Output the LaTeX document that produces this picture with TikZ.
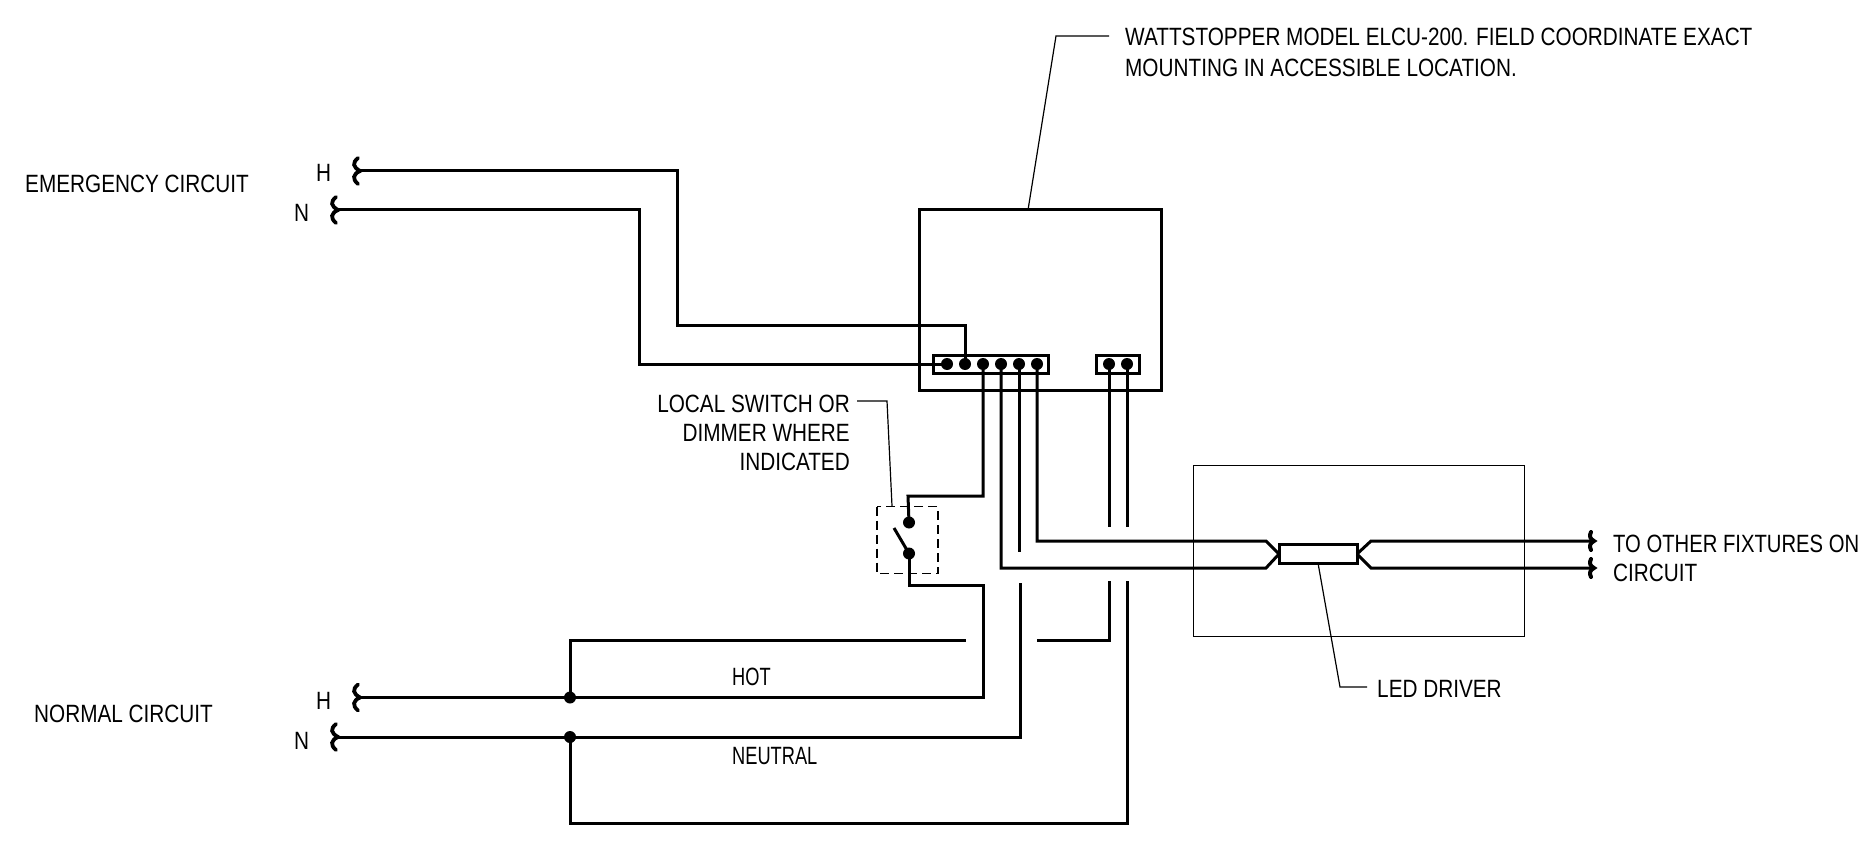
\documentclass[tikz,border=0pt]{standalone}
\usepackage{fontspec}
\setmainfont[FakeStretch=0.83]{Liberation Sans}
\newfontfamily\narrowfont[FakeStretch=0.73]{Liberation Sans}
\newfontfamily\fitfont[FakeStretch=0.81]{Liberation Sans}
\tikzset{
  x=1pt,y=-1pt,
  wire/.style={draw=black,line width=3pt,line join=miter,line cap=butt},
  boxw/.style={draw=black,line width=3pt,fill=none},
  thin line/.style={draw=black,line width=1.2pt},
  dot/.style={circle,fill=black,inner sep=0pt,minimum size=12pt},
  lbl/.style={font=\fontsize{25}{30}\selectfont,inner sep=0pt,anchor=base west},
  lblr/.style={font=\fontsize{25}{30}\selectfont,inner sep=0pt,anchor=base east},
  lbln/.style={font=\fontsize{25}{30}\narrowfont,inner sep=0pt,anchor=base west},
  lblf/.style={font=\fontsize{25}{30}\fitfont,inner sep=0pt,anchor=base west},
  squig/.pic={\draw[line width=3.8pt,line cap=round] (1,-13) .. controls (-5,-8) and (-4,-4) .. (3,0) .. controls (-4,3) and (-5,8) .. (1,13);},
  squigs/.pic={\draw[line width=4pt,line cap=round] (-1,-9) .. controls (-3,-5) and (-2,-2) .. (2,0) .. controls (-2,2) and (-3,5) .. (-1,9);}
}
\begin{document}
\begin{tikzpicture}
\useasboundingbox (0,0) rectangle (1861,845);
% thin boxes
\node[thin line,draw,inner sep=0pt,anchor=north west,minimum width=331pt,minimum height=171pt] (fixture) at (1193,465) {};
\draw[draw=black,line width=1.1pt,dash pattern=on 9pt off 5pt] (877,506.5) rectangle (938,573.5);
% main boxes
\draw[boxw] (919,210) rectangle (1161.5,390);
\coordinate (ctop) at (1028,210);
\draw[boxw] (933,355) rectangle (1048,373);
\draw[boxw] (1096,355) rectangle (1139,373);
% terminals
\node[dot] (t1) at (947,364) {};
\node[dot] (t2) at (965,364) {};
\node[dot] (t3) at (983,364) {};
\node[dot] (t4) at (1001,364) {};
\node[dot] (t5) at (1019,364) {};
\node[dot] (t6) at (1037,364) {};
\node[dot] (t7) at (1109,364) {};
\node[dot] (t8) at (1127,364) {};
% switch
\node[dot] (sa) at (909,522.5) {};
\node[dot] (sb) at (909,553.5) {};
\coordinate (sarm) at (894,528);
\draw[wire] (sb.center) -- (sarm);
% junctions
\node[dot] (jh) at (570,697.5) {};
\node[dot] (jn) at (570,737) {};
% driver
\draw[boxw] (1279,544.5) rectangle (1357,563.5);
\coordinate (dl) at (1279,554);
\coordinate (dr) at (1357,554);
% free ends
\coordinate (eh) at (357,171);
\coordinate (en) at (335,210);
\coordinate (nh) at (357,697.5);
\coordinate (nn) at (335,737);
\coordinate (o1) at (1592,541);
\coordinate (o2) at (1592,568);
\foreach \p in {eh,en,nh,nn} \path (\p) pic {squig};
\foreach \p in {o1,o2} \path (\p) pic {squigs};
% emergency wires
\draw[wire] (eh) -- (677.5,171) -- (677.5,325) -- (965,325) -- (t2.center);
\draw[wire] (en) -- (639.5,210) -- (639.5,364) -- (t1.center);
% down to switch
\draw[wire] (t3.center) -- (983,496) -- (908,496) -- (sa.center);
\draw[wire] (sb.center) -- (909,585) -- (983,585) -- (983,697.5) -- (nh);
% to driver
\draw[wire] (t4.center) -- (1001,568) -- (1266,568) -- (dl);
\draw[wire] (t6.center) -- (1037,541) -- (1266,541) -- (dl);
\draw[wire] (t5.center) -- (1019,552);
\draw[wire] (t7.center) -- (1109,527);
\draw[wire] (t8.center) -- (1127,527);
\draw[wire] (dr) -- (1371,541) -- (o1);
\draw[wire] (dr) -- (1371,568) -- (o2);
% normal wires
\draw[wire] (nn) -- (1020,737) -- (1020,583);
\draw[wire] (jh.center) -- (570,640) -- (966,640);
\draw[wire] (1037,640) -- (1109,640) -- (1109,581);
\draw[wire] (jn.center) -- (570,823.5) -- (1127,823.5) -- (1127,581);
% leaders
\draw[thin line] (ctop) -- (1056,36) -- (1109,36);
\draw[thin line] (857,401) -- (887,401) -- (892,506);
\draw[thin line] (1318,563) -- (1340,687) -- (1367,687);
% labels
\node[lbl] (l1) at (1125,46) {WATTSTOPPER MODEL ELCU-200. FIELD COORDINATE EXACT};
\node[lbl] (l2) at (1125,77) {MOUNTING IN ACCESSIBLE LOCATION.};
\node[lbl] (l3) at (25,193) {EMERGENCY CIRCUIT};
\node[lbl] (l4) at (34,722) {NORMAL CIRCUIT};
\node[lbl] (h1) at (316,182) {H};
\node[lbl] (n1) at (294,222) {N};
\node[lbl] (h2) at (316,709) {H};
\node[lbl] (n2) at (294,749) {N};
\node[lblr] (s1) at (850,412) {LOCAL SWITCH OR};
\node[lblr] (s2) at (850,441) {DIMMER WHERE};
\node[lblr] (s3) at (850,470) {INDICATED};
\node[lbln] (hot) at (732,685) {HOT};
\node[lbln] (neu) at (732,764) {NEUTRAL};
\node[lbl] (drv) at (1377,697) {LED DRIVER};
\node[lblf] (to1) at (1613,552) {TO OTHER FIXTURES ON};
\node[lbl] (to2) at (1613,581) {CIRCUIT};
\end{tikzpicture}
\end{document}
